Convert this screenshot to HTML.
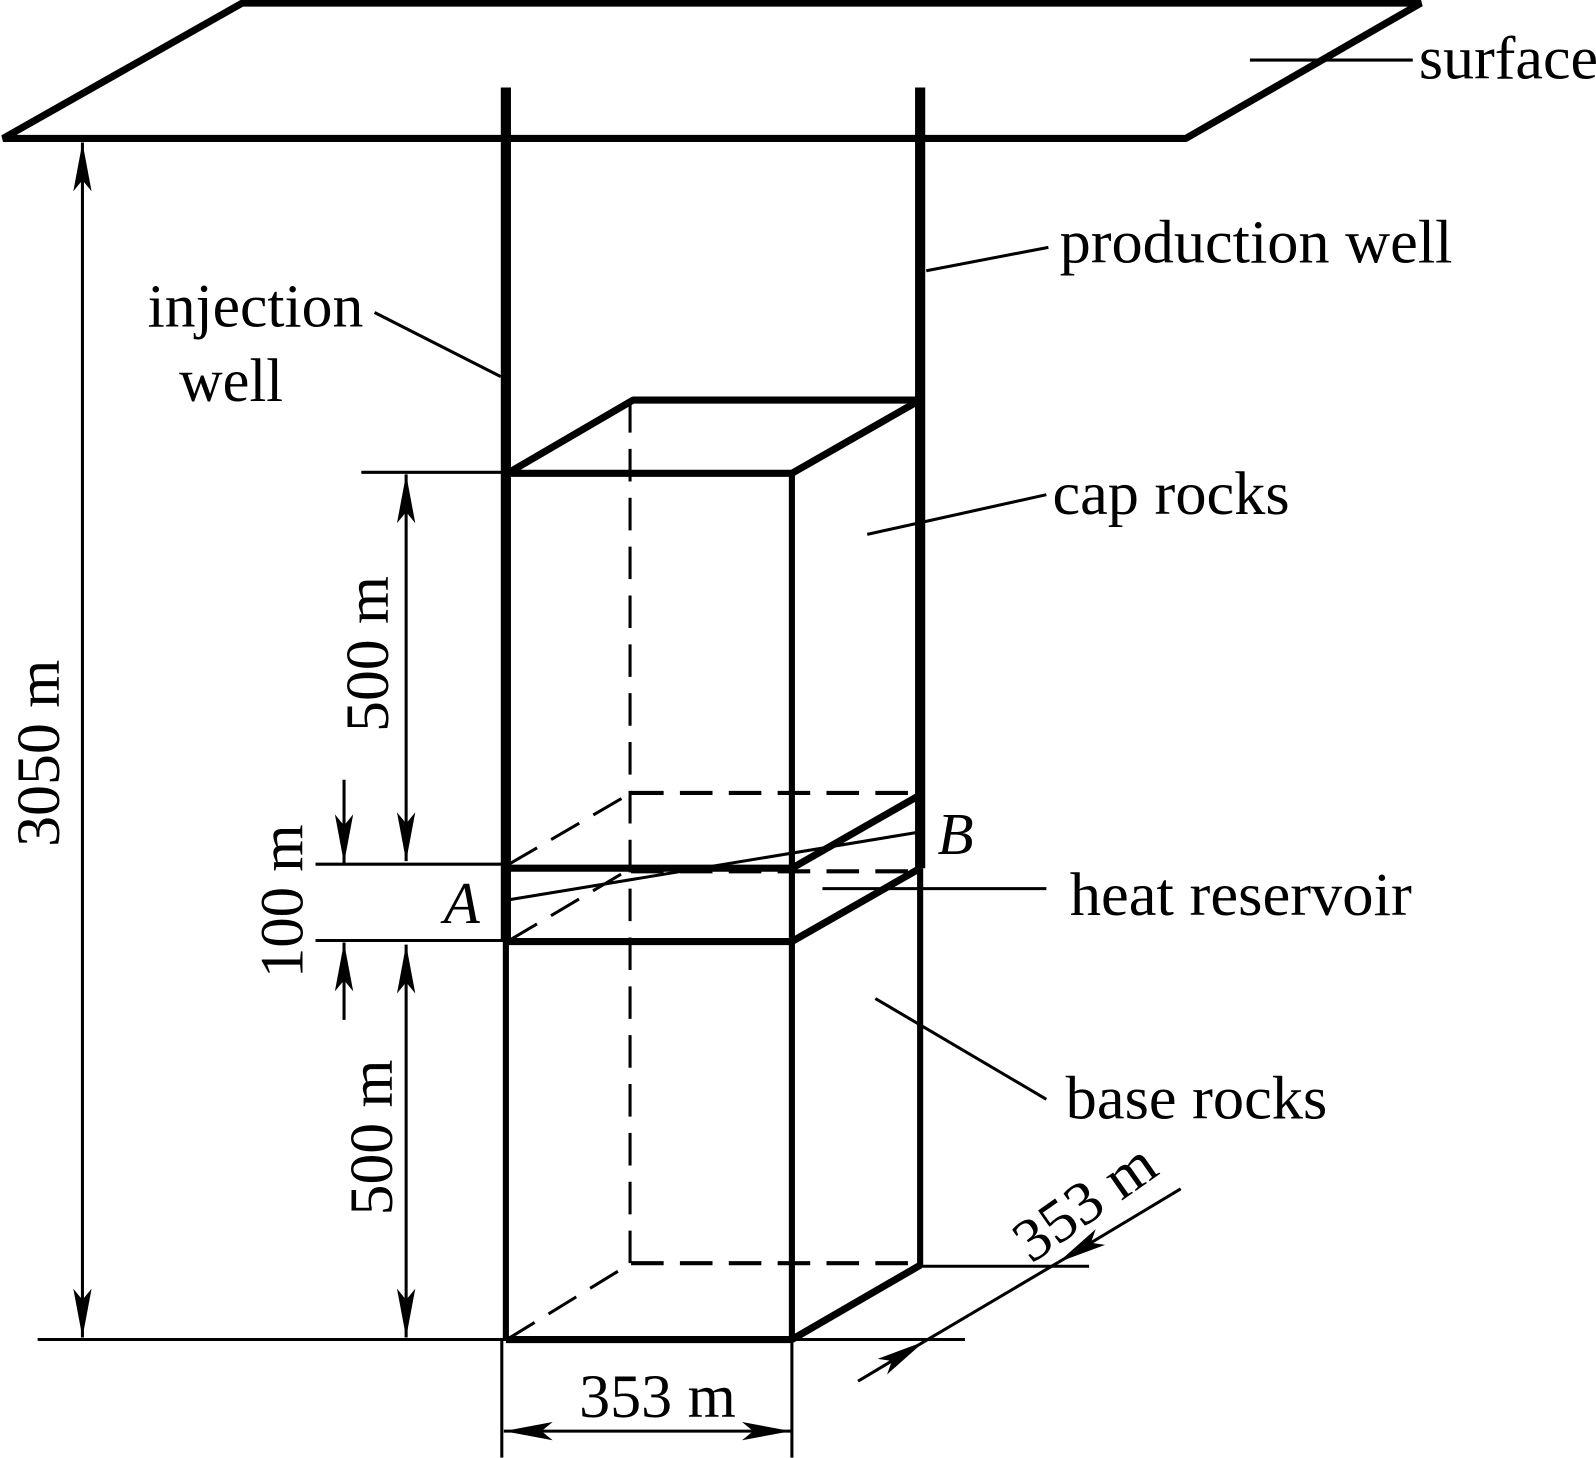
<!DOCTYPE html>
<html>
<head>
<meta charset="utf-8">
<style>
html,body{margin:0;padding:0;background:#fff;width:1596px;height:1458px;overflow:hidden}
svg{display:block}
text{font-family:"Liberation Serif",serif;font-size:60px;fill:#000}
.i{font-style:italic;font-size:58px}
.t{stroke:#000;stroke-width:3;fill:none}
.m{stroke:#000;stroke-width:6;fill:none}
.k{stroke:#000;stroke-width:7;fill:none;stroke-linejoin:bevel}
.w{stroke:#000;stroke-width:10;fill:none}
.d{stroke:#000;stroke-width:3;fill:none;stroke-dasharray:32 16}
.h{stroke:#000;stroke-width:4;fill:none;stroke-dasharray:32 16}
</style>
</head>
<body>
<svg xmlns="http://www.w3.org/2000/svg" width="1596" height="1458" viewBox="0 0 1568 1432.4">
<defs>
<marker id="a" markerUnits="userSpaceOnUse" markerWidth="52" markerHeight="22" refX="48" refY="11" orient="auto-start-reverse">
<path d="M48,11 L0,2 L11,11 L0,20z" fill="#000"/>
</marker>
</defs>

<!-- surface plane -->
<path class="k" d="M3,136 L238,3 L1396,3 L1165,136 Z"/>
<path class="t" d="M1228,59 H1388"/>

<!-- wells -->
<path class="w" d="M497,86 V925"/>
<path class="w" d="M904,86 V853"/>
<path class="m" d="M497,925 V1316"/>
<path class="m" d="M904,853 V1243"/>

<!-- box solid -->
<path class="k" d="M497,465 H778 M502,463 L622,393 H904 M778,465 L904,393"/>
<path class="m" d="M778,465 V1316"/>
<path class="k" d="M497,853 H778 M497,925 H778 M778,853 L904,781 M778,925 L904,853 M497,1316 H778 M778,1316 L904,1243"/>

<!-- box dashed -->
<path class="d" d="M619,393 V1241"/>
<path class="d" d="M500,849 L620,779"/>
<path class="h" d="M620,779 H904"/>
<path class="d" d="M500,924 L620,853"/>
<path class="h" d="M620,856 H904"/>
<path class="d" d="M498,1316 L620,1241"/>
<path class="h" d="M620,1241 H904"/>

<!-- AB -->
<path class="t" d="M500,884 L900,818"/>

<!-- leaders -->
<path class="t" d="M910,266 L1030,243"/>
<path class="t" d="M368,307 L492,370"/>
<path class="t" d="M852,525 L1028,486"/>
<path class="t" d="M808,873 H1028"/>
<path class="t" d="M860,981 L1028,1080"/>

<!-- extension lines -->
<path class="t" d="M37,1316 H948"/>
<path class="t" d="M355,464 H497"/>
<path class="t" d="M310,849 H497"/>
<path class="t" d="M310,924 H497"/>
<path class="t" d="M904,1244 H1070"/>
<path class="t" d="M493,1316 V1432 M778,1316 V1432"/>

<!-- dimensions -->
<path class="t" d="M81,140 V1314" marker-start="url(#a)" marker-end="url(#a)"/>
<path class="t" d="M399,466 V846" marker-start="url(#a)" marker-end="url(#a)"/>
<path class="t" d="M399,928 V1314" marker-start="url(#a)" marker-end="url(#a)"/>
<path class="t" d="M338,766 V848" marker-end="url(#a)"/>
<path class="t" d="M338,1002 V926" marker-end="url(#a)"/>
<path class="t" d="M495,1406 H777" marker-start="url(#a)" marker-end="url(#a)"/>
<path class="t" d="M1160,1168 L1040,1240" marker-end="url(#a)"/>
<path class="t" d="M843,1357 L908,1318" marker-end="url(#a)"/>
<path class="t" d="M1040,1240 L908,1318"/>

<!-- labels -->
<text x="1394" y="77" textLength="176" lengthAdjust="spacingAndGlyphs">surface</text>
<text x="1041" y="258" textLength="386" lengthAdjust="spacingAndGlyphs">production well</text>
<text x="145" y="321" textLength="212" lengthAdjust="spacingAndGlyphs">injection</text>
<text x="176" y="394" textLength="102" lengthAdjust="spacingAndGlyphs">well</text>
<text x="1034" y="505" textLength="233" lengthAdjust="spacingAndGlyphs">cap rocks</text>
<text x="1051" y="899" textLength="336" lengthAdjust="spacingAndGlyphs">heat reservoir</text>
<text x="1047" y="1099" textLength="257" lengthAdjust="spacingAndGlyphs">base rocks</text>
<text x="569" y="1392" textLength="154" lengthAdjust="spacingAndGlyphs">353 m</text>
<text transform="translate(58,832) rotate(-90)" textLength="184" lengthAdjust="spacingAndGlyphs">3050 m</text>
<text transform="translate(381,719) rotate(-90)" textLength="153" lengthAdjust="spacingAndGlyphs">500 m</text>
<text transform="translate(297,961) rotate(-90)" textLength="151" lengthAdjust="spacingAndGlyphs">100 m</text>
<text transform="translate(385,1194) rotate(-90)" textLength="153" lengthAdjust="spacingAndGlyphs">500 m</text>
<text transform="translate(1013,1242) rotate(-35)" textLength="156" lengthAdjust="spacingAndGlyphs">353 m</text>
<text class="i" x="436" y="907">A</text>
<text class="i" x="921" y="839">B</text>
</svg>
</body>
</html>
